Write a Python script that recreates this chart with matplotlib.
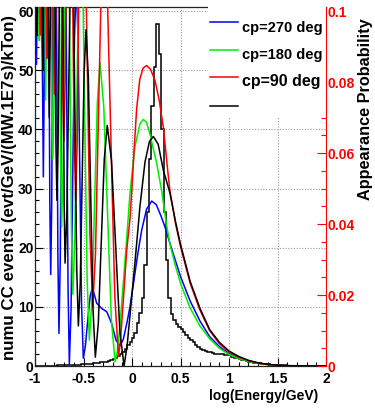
import numpy as np
import matplotlib
matplotlib.use("Agg")
import matplotlib.pyplot as plt
from matplotlib.ticker import MultipleLocator
from matplotlib.patches import Rectangle

plt.rcParams['font.family'] = ['Liberation Sans', 'DejaVu Sans']
plt.rcParams['font.weight'] = 'bold'

# numu CC event histogram: 120 bins of 0.025 in log(E/GeV), from -1 to 2
hist_edges = np.linspace(-1.0, 2.0, 121)
hist_vals = [
    0.05, 0.05, 0.05, 0.06, 0.06, 0.07, 0.07, 0.08, 0.08, 0.09,
    0.10, 0.10, 0.11, 0.12, 0.13, 0.15, 0.17, 0.20, 0.23, 0.27,
    0.30, 0.33, 0.37, 0.42, 0.46, 0.50, 0.55, 0.60, 0.65, 0.70,
    0.80, 0.95, 1.15, 1.40, 1.70, 2.00, 2.40, 2.90, 3.50, 4.10,
    4.80, 5.60, 7.20, 9.00, 11.5, 17.0, 26.0, 35.0, 44.0, 50.5,
    57.8, 52.8, 40.0, 26.0, 18.0, 11.5, 8.80, 7.80, 7.10, 6.60,
    6.20, 5.70, 5.20, 4.80, 4.40, 4.00, 3.60, 3.20, 2.90, 2.70,
    2.50, 2.40, 2.30, 2.20, 2.10, 2.10, 2.00, 2.00, 1.90, 1.90,
    1.80, 1.60, 1.40, 1.30, 1.20, 1.05, 0.95, 0.85, 0.75, 0.65,
    0.58, 0.52, 0.46, 0.40, 0.35, 0.30, 0.26, 0.22, 0.19, 0.16,
    0.14, 0.12, 0.10, 0.09, 0.08, 0.07, 0.06, 0.05, 0.05, 0.04,
    0.04, 0.03, 0.03, 0.03, 0.02, 0.02, 0.02, 0.02, 0.01, 0.01,
]

# appearance probability curves (right axis)
cp270_x = [-1.0, -0.985, -0.9675, -0.95, -0.932, -0.914, -0.8945, -0.875, -0.8658, -0.8565,
           -0.8473, -0.838, -0.8278, -0.8175, -0.8073, -0.797, -0.786, -0.775, -0.764, -0.753,
           -0.7398, -0.7265, -0.7133, -0.70, -0.6865, -0.673, -0.6595, -0.646, -0.6283, -0.6105,
           -0.5928, -0.575, -0.5568, -0.5385, -0.5203, -0.502, -0.48, -0.455, -0.43, -0.409,
           -0.39, -0.364, -0.312, -0.26, -0.21, -0.165, -0.124, -0.09, -0.05, -0.021,
           0.02, 0.06, 0.1, 0.15, 0.203, 0.25, 0.3, 0.34, 0.4, 0.5,
           0.6, 0.7, 0.8, 0.9, 1.0, 1.1, 1.2, 1.3, 1.4, 1.5, 1.6, 1.8, 2.0]
cp270_p = [0.103, 0.085, 0.125, 0.167, 0.11, 0.0533, 0.11, 0.167, 0.146, 0.0963,
           0.0463, 0.0258, 0.0452, 0.0922, 0.139, 0.158, 0.1365, 0.0838, 0.031, 0.0092,
           0.0297, 0.0797, 0.1295, 0.15, 0.128, 0.0753, 0.0223, 0.0005, 0.0162, 0.0545,
           0.0927, 0.1083, 0.0928, 0.0553, 0.0177, 0.0022, 0.0058, 0.0133, 0.020, 0.0218,
           0.0203, 0.0177, 0.0162, 0.0153, 0.012, 0.0073, 0.0057, 0.0075, 0.0125, 0.0167,
           0.0242, 0.0317, 0.0383, 0.0442, 0.0465, 0.0455, 0.0422, 0.0392, 0.0338, 0.0252,
           0.0183, 0.0127, 0.0083, 0.0055, 0.0035, 0.00225, 0.0014, 0.00083, 0.00042, 0.0002,
           0.00008, 0.00003, 0.0]

cp180_x = [-1.0, -0.985, -0.97, -0.955, -0.9375, -0.92, -0.905, -0.89, -0.87, -0.85,
           -0.8415, -0.833, -0.8245, -0.816, -0.8045, -0.793, -0.7815, -0.77, -0.7588, -0.7475,
           -0.7363, -0.725, -0.7113, -0.6975, -0.6838, -0.67, -0.655, -0.64, -0.625, -0.61,
           -0.59, -0.57, -0.55, -0.53, -0.5075, -0.485, -0.4625, -0.44, -0.4125, -0.385,
           -0.3575, -0.33, -0.2913, -0.2525, -0.2138, -0.175, -0.15, -0.124, -0.09, -0.055,
           -0.021, 0.03, 0.082, 0.117, 0.15, 0.185, 0.254, 0.307, 0.35, 0.392,
           0.45, 0.5, 0.6, 0.7, 0.8, 0.9, 1.0, 1.1, 1.2, 1.3, 1.4, 1.5, 1.6, 1.8, 2.0]
cp180_p = [0.142, 0.183, 0.1375, 0.0917, 0.1375, 0.183, 0.129, 0.075, 0.125, 0.175,
           0.158, 0.1167, 0.0753, 0.0583, 0.0742, 0.1125, 0.151, 0.167, 0.148, 0.103,
           0.0578, 0.0392, 0.0553, 0.0947, 0.134, 0.15, 0.131, 0.0852, 0.0392, 0.0202,
           0.0355, 0.0727, 0.1097, 0.125, 0.1078, 0.0662, 0.0245, 0.0073, 0.0187, 0.0465,
           0.0742, 0.0855, 0.0732, 0.0433, 0.0135, 0.0012, 0.0042, 0.0117, 0.0233, 0.0358,
           0.0487, 0.0618, 0.0683, 0.0695, 0.0687, 0.0653, 0.0572, 0.0492, 0.0408, 0.0342,
           0.028, 0.0233, 0.0163, 0.0113, 0.0077, 0.005, 0.00325, 0.0021, 0.0013, 0.00075,
           0.00037, 0.00017, 0.00007, 0.00002, 0.0]

cp90_x = [-1.0, -0.975, -0.96, -0.944, -0.929, -0.914, -0.896, -0.878, -0.86, -0.842,
          -0.8315, -0.821, -0.8105, -0.80, -0.789, -0.778, -0.767, -0.756, -0.7428, -0.7295,
          -0.7163, -0.703, -0.6893, -0.6755, -0.6618, -0.648, -0.631, -0.614, -0.597, -0.58,
          -0.565, -0.55, -0.535, -0.52, -0.4913, -0.4625, -0.4338, -0.405, -0.3763, -0.3475,
          -0.3188, -0.29, -0.2525, -0.215, -0.1775, -0.14, -0.12, -0.09, -0.055, -0.02,
          0.0, 0.025, 0.048, 0.08, 0.115, 0.15, 0.19, 0.237, 0.28, 0.323,
          0.375, 0.392, 0.45, 0.5, 0.6, 0.7, 0.8, 0.9, 1.0, 1.1, 1.2, 1.3, 1.4, 1.5, 1.6, 1.8, 2.0]
cp90_p = [0.15, 0.183, 0.138, 0.0933, 0.138, 0.183, 0.135, 0.0867, 0.135, 0.183,
          0.168, 0.13, 0.0922, 0.0767, 0.0922, 0.13, 0.168, 0.183, 0.166, 0.123,
          0.0808, 0.0633, 0.0797, 0.119, 0.159, 0.175, 0.156, 0.111, 0.0653, 0.0467,
          0.063, 0.1025, 0.142, 0.158, 0.138, 0.0875, 0.0373, 0.0167, 0.0318, 0.0683,
          0.1048, 0.12, 0.1028, 0.0613, 0.0198, 0.0027, 0.0067, 0.0183, 0.0325, 0.0417,
          0.0505, 0.0625, 0.0725, 0.0808, 0.084, 0.0847, 0.0837, 0.0805, 0.075, 0.0673,
          0.0533, 0.0492, 0.040, 0.0337, 0.0233, 0.0158, 0.010, 0.0063, 0.004, 0.0025,
          0.0015, 0.00083, 0.00042, 0.0002, 0.00008, 0.00003, 0.0]

cp0_x = [-1.0, -0.9885, -0.977, -0.963, -0.949, -0.9345, -0.92, -0.9035, -0.887, -0.87,
         -0.853, -0.834, -0.815, -0.8048, -0.7945, -0.7843, -0.774, -0.7625, -0.751, -0.7395,
         -0.728, -0.7185, -0.709, -0.6995, -0.69, -0.6723, -0.6545, -0.6368, -0.619, -0.6025,
         -0.586, -0.5695, -0.553, -0.5333, -0.5135, -0.4938, -0.474, -0.45, -0.426, -0.402,
         -0.378, -0.3473, -0.3165, -0.2858, -0.255, -0.2118, -0.1685, -0.1253, -0.082, -0.05,
         -0.021, 0.03, 0.082, 0.134, 0.18, 0.22, 0.27, 0.323, 0.392, 0.45,
         0.5, 0.6, 0.7, 0.8, 0.9, 1.0, 1.1, 1.2, 1.3, 1.4, 1.5, 1.6, 1.8, 2.0]
cp0_p = [0.167, 0.130, 0.0933, 0.130, 0.167, 0.125, 0.0833, 0.123, 0.163, 0.117,
         0.070, 0.114, 0.158, 0.142, 0.1025, 0.063, 0.0467, 0.0613, 0.0967, 0.132,
         0.147, 0.1295, 0.0878, 0.0462, 0.029, 0.0423, 0.0745, 0.1067, 0.12, 0.1042,
         0.0657, 0.0272, 0.0113, 0.0235, 0.0532, 0.0827, 0.0948, 0.0813, 0.0487, 0.016,
         0.0025, 0.012, 0.0352, 0.0583, 0.0678, 0.058, 0.034, 0.0098, 0.0, 0.0058,
         0.0142, 0.029, 0.045, 0.0575, 0.0633, 0.0647, 0.0625, 0.0552, 0.0487, 0.0405,
         0.0343, 0.0238, 0.0163, 0.0103, 0.0067, 0.0042, 0.0027, 0.0016, 0.0009, 0.00047,
         0.00022, 0.0001, 0.00003, 0.0]

curves = [
    (cp270_x, cp270_p, '#0000ff', 'cp=270 deg', 10.5),
    (cp180_x, cp180_p, '#00ee00', 'cp=180 deg', 10.5),
    (cp90_x, cp90_p, '#ff0000', 'cp=90 deg', 11.5),
    (cp0_x, cp0_p, '#000000', '', 10.5),
]

x_ticks = [-1, -0.5, 0, 0.5, 1, 1.5, 2]
x_ticklabels = ['-1', '-0.5', '0', '0.5', '1', '1.5', '2']
y_ticks = [0, 10, 20, 30, 40, 50, 60]
p_ticks = [0, 0.02, 0.04, 0.06, 0.08, 0.1]
p_ticklabels = ['0', '0.02', '0.04', '0.06', '0.08', '0.1']

W, H = 375, 408
fig = plt.figure(figsize=(W / 100, H / 100), dpi=100)
ax = fig.add_axes([35 / W, 1 - 366 / H, 291 / W, 359 / H])

ax.stairs(hist_vals, hist_edges, color='black', linewidth=1.1, zorder=3)
ax.set_xlim(-1, 2)
ax.set_ylim(0, 60.7)
ax.set_xticks(x_ticks)
ax.set_xticklabels(x_ticklabels)
ax.set_yticks(y_ticks)
ax.xaxis.set_minor_locator(MultipleLocator(0.1))
ax.yaxis.set_minor_locator(MultipleLocator(2))
ax.tick_params(which='both', direction='in', top=False, right=False, labelsize=10)
ax.tick_params(axis='x', which='major', length=5.8, width=0.8, pad=4.5)
ax.tick_params(axis='x', which='minor', length=2.9, width=0.8)
ax.tick_params(axis='y', which='major', length=5.5, width=0.8, pad=1)
ax.tick_params(axis='y', which='minor', length=2.9, width=0.8)
ax.grid(True, which='major', color='0.6', linestyle=(0, (1, 1.5)), linewidth=0.8)
ax.set_axisbelow(True)
ax.spines['right'].set_visible(False)
for s in ['left', 'bottom', 'top']:
    ax.spines[s].set_linewidth(0.9)
    ax.spines[s].set_color('#222222')

ax2 = ax.twinx()
for px, pp, col, lab, fs in curves:
    ax2.plot(px, pp, color=col, linewidth=1.1, zorder=2)
ax2.set_ylim(0, 0.1012)
ax2.set_yticks(p_ticks)
ax2.set_yticklabels(p_ticklabels)
ax2.yaxis.set_minor_locator(MultipleLocator(0.005))
ax2.tick_params(axis='y', which='both', direction='in', colors='red', labelcolor='red',
                labelsize=10, pad=1)
ax2.tick_params(axis='y', which='major', length=6.5, width=0.8)
ax2.tick_params(axis='y', which='minor', length=3.6, width=0.8)
for s in ['left', 'bottom', 'top']:
    ax2.spines[s].set_visible(False)
ax2.spines['right'].set_color('red')
ax2.spines['right'].set_linewidth(0.8)
ax2.spines['right'].set_zorder(20)

# legend box drawn like the original (white pad over the top right corner)
ax2.add_patch(Rectangle((0.5945, 0.6936), 0.4055, 0.315, transform=ax2.transAxes,
                        facecolor='white', edgecolor='none', zorder=10, clip_on=False))
line_y = [0.959, 0.880, 0.804, 0.724]
text_y = [0.9407, 0.8663, 0.7911, 0.715]
for (px, pp, col, lab, fs), ly, ty in zip(curves, line_y, text_y):
    ax2.plot([0.6014, 0.6976], [ly, ly], color=col, linewidth=1.1,
             transform=ax2.transAxes, zorder=11, clip_on=False)
    ax2.text(0.7113, ty, lab, transform=ax2.transAxes, fontsize=fs,
             fontweight='bold', va='center', ha='left', zorder=12)

fig.text(264 / W, 1 - 396 / H, 'log(Energy/GeV)', ha='center', va='center',
         fontsize=10, fontweight='bold')
fig.text(9.5 / W, 1 - 188 / H, 'numu CC events (evt/GeV/(MW.1E7s)/kTon)', rotation=90,
         ha='center', va='center', fontsize=12.2, fontweight='bold')
fig.text(365.5 / W, 1 - 109 / H, 'Appearance Probability', rotation=90,
         ha='center', va='center', fontsize=11.7, fontweight='bold')

fig.savefig('out.png', dpi=100)
